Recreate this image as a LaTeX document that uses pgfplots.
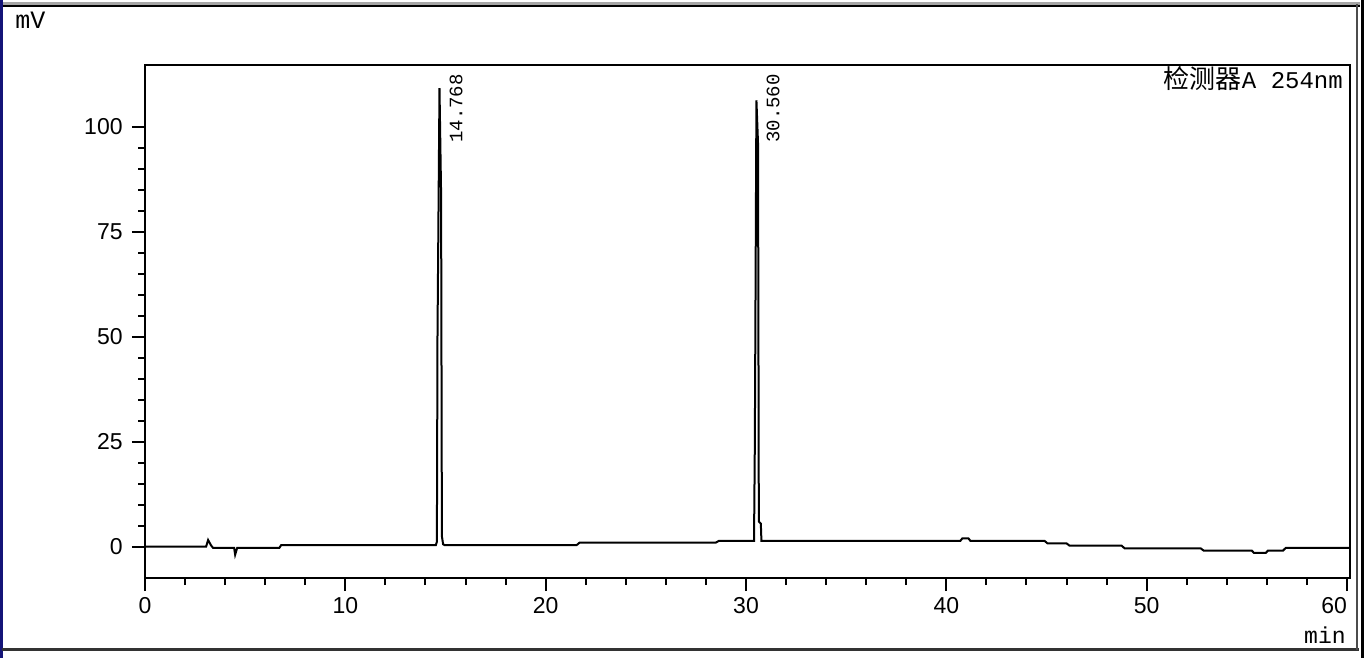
\documentclass[border=0pt]{standalone}
\usepackage{fontspec}
\setmainfont{Liberation Sans}
\setmonofont{Liberation Mono}
\newfontfamily\cjk{Noto Sans CJK SC}
\usepackage{pgfplots}
\pgfplotsset{compat=1.18}
\definecolor{navyframe}{RGB}{20,20,120}
\begin{document}
\begin{tikzpicture}
% window frame, pixel units (y down)
\begin{scope}[x=0.5pt,y=-0.5pt]
\useasboundingbox (0,0) rectangle (1364,658);
\draw[line width=1.5pt,gray!70] (0,4) -- (1360,4);
\draw[line width=1pt,black] (0,6) -- (1360,6);
\draw[line width=1.5pt,navyframe] (1.5,0) -- (1.5,658);
\draw[line width=1.5pt,black!80] (1.5,649.5) -- (1359,649.5);
\draw[line width=1pt,black!70] (1357,4) -- (1357,650);
\draw[line width=1.2pt,black] (1362.5,0) -- (1362.5,658);
\node[anchor=base west,inner sep=0,font=\ttfamily\fontsize{12.5}{13}\selectfont] at (15,29) {mV};
\node[anchor=base east,inner sep=0,font=\ttfamily\fontsize{11.5}{12}\selectfont] at (1346,643) {min};
\end{scope}
\begin{axis}[
  at={(72.5pt,-289pt)}, anchor=south west,
  scale only axis, width=602.5pt, height=256.5pt,
  xmin=0, xmax=60.15, ymin=-7.45, ymax=114.7,
  xtick={0,10,20,30,40,50,60},
  xticklabels={0,10,20,30,40,50,\llap{60}},
  ytick={0,25,50,75,100},
  minor x tick num=4, minor y tick num=4,
  tick align=outside, tick pos=left,
  major tick length=6.5pt, minor tick length=3.5pt,
  tick style={black,line width=1pt},
  axis line style={black,line width=1pt},
  /pgf/number format/assume math mode=true,
  ticklabel style={font=\fontsize{11.5}{12}\selectfont},
  yticklabel style={inner sep=0pt,xshift=-4.5pt},
  xticklabel style={inner sep=0pt,yshift=-3pt},
]
\addplot[black,line width=1pt,sharp plot] coordinates {
(0,0) (3.05,0) (3.15,1.6) (3.3,0.3) (3.4,-0.3) (4.45,-0.3) (4.5,-1.9) (4.6,-0.3)
(6.7,-0.3) (6.8,0.4) (14.52,0.4) (14.57,1.2) (14.60,50) (14.70,109.2) (14.78,84)
(14.82,2.5) (14.88,0.6) (14.95,0.4) (21.55,0.4) (21.7,1.0) (28.5,1.0) (28.65,1.4)
(30.40,1.4) (30.44,24) (30.52,106.3) (30.60,96) (30.64,6) (30.74,5.5) (30.77,1.4)
(40.7,1.4) (40.8,2.0) (41.1,2.0) (41.2,1.4) (44.9,1.4) (45.05,0.8) (46.0,0.8)
(46.15,0.25) (48.75,0.25) (48.9,-0.4) (52.7,-0.4) (52.85,-0.95) (55.25,-0.95)
(55.35,-1.45) (55.95,-1.45) (56.05,-0.95) (56.8,-0.95) (56.95,-0.25) (60.15,-0.25)
};
\node[rotate=90,anchor=west,inner sep=0,font=\ttfamily\fontsize{9.5}{10}\selectfont] at (axis cs:15.53,96.1) {14.768};
\node[rotate=90,anchor=west,inner sep=0,font=\ttfamily\fontsize{9.5}{10}\selectfont] at (axis cs:31.35,96.1) {30.560};
\node[anchor=base east,inner sep=0] at (axis cs:59.81,109.2) {\cjk\fontsize{13}{13}\selectfont 检测器\ttfamily\fontsize{12}{12}\selectfont A 254nm};
\end{axis}
\end{tikzpicture}
\end{document}
